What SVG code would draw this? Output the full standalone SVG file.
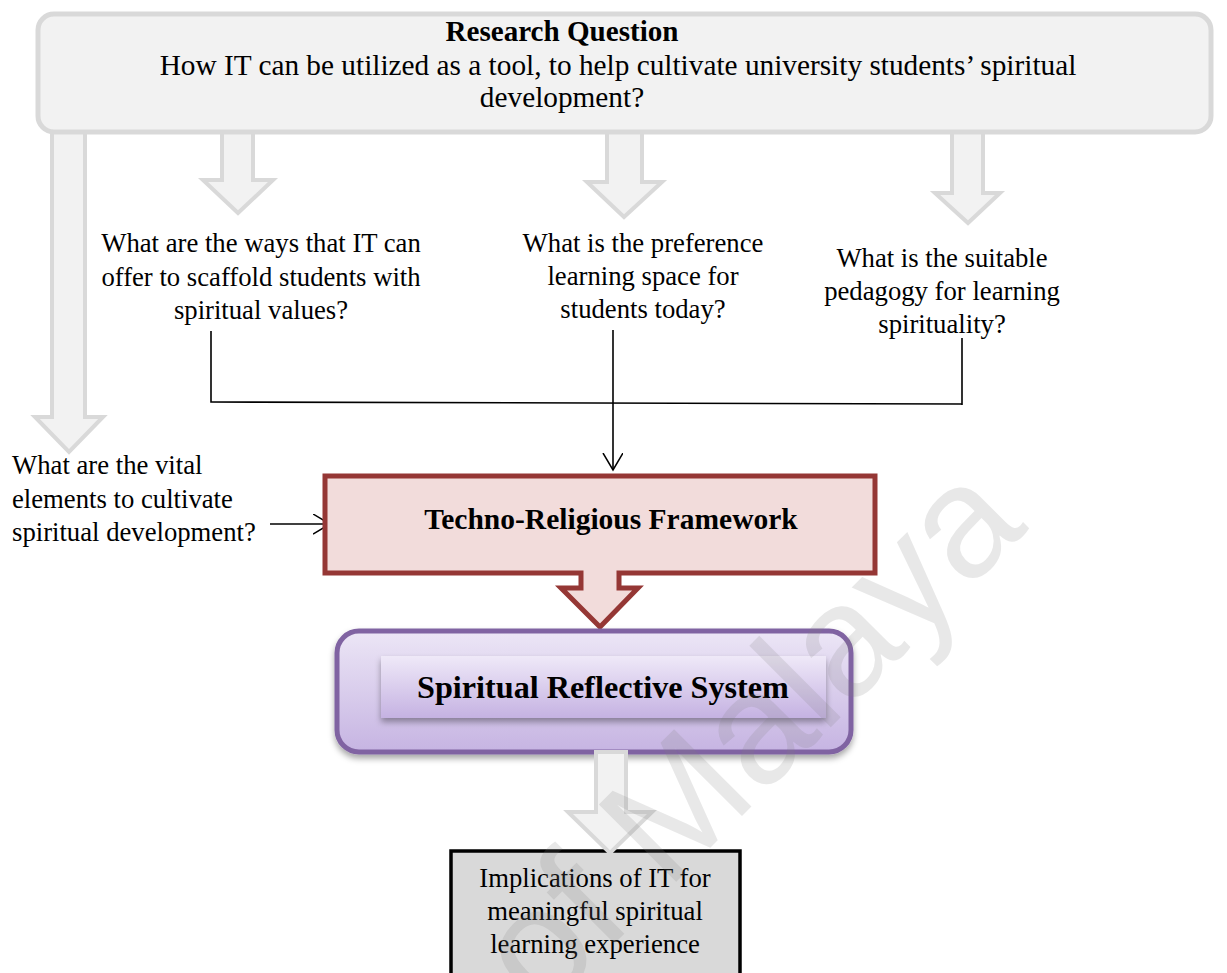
<svg xmlns="http://www.w3.org/2000/svg" width="1227" height="973" viewBox="0 0 1227 973">
<defs>
<style>
.t{font-family:"Liberation Serif","Times New Roman",serif;font-size:26.7px;fill:#000;text-anchor:middle}
.b{font-weight:bold}
.garrow{fill:#f2f2f2;stroke:#d9d9d9;stroke-width:4;stroke-linejoin:miter}
.conn{fill:none;stroke:#000;stroke-width:1.6}
</style>
<linearGradient id="gOuter" x1="0" y1="0" x2="0" y2="1">
<stop offset="0" stop-color="#ece6f6"/>
<stop offset="1" stop-color="#c6b4e2"/>
</linearGradient>
<linearGradient id="gInner" x1="0" y1="0" x2="0" y2="1">
<stop offset="0" stop-color="#efe9f8"/>
<stop offset="1" stop-color="#c5b2e2"/>
</linearGradient>
<filter id="sh" x="-10%" y="-20%" width="120%" height="150%">
<feDropShadow dx="0" dy="4" stdDeviation="3" flood-color="#000" flood-opacity="0.35"/>
</filter>
<marker id="open" markerUnits="userSpaceOnUse" markerWidth="20" markerHeight="22" refX="17" refY="10" orient="auto" viewBox="0 0 20 22">
<path d="M0,0 L17,10 L0,20" fill="none" stroke="#000" stroke-width="1.5"/>
</marker>
</defs>
<rect width="1227" height="973" fill="#fff"/>

<g id="research-question">
<path class="garrow" d="M52,130 L52,417 L35,417 L69,452 L103,417 L85,417 L85,130 Z"/>
<path class="garrow" d="M222,130 L222,180 L203,180 L238,213 L273,180 L253,180 L253,130 Z"/>
<path class="garrow" d="M607,130 L607,182 L587,182 L624,217 L662,182 L642,182 L642,130 Z"/>
<path class="garrow" d="M952,130 L952,193 L935,193 L968,223 L1000,193 L983,193 L983,130 Z"/>
<rect x="38" y="14" width="1173" height="118" rx="16" fill="#f2f2f2" stroke="#d9d9d9" stroke-width="5"/>
<text class="t b" x="562" y="41" style="font-size:29.1px">Research Question</text>
<text class="t" x="618" y="75" style="font-size:29.3px">How IT can be utilized as a tool, to help cultivate university students’ spiritual</text>
<text class="t" x="562" y="107" style="font-size:29.3px">development?</text>
</g>

<g id="q-ways">
<text class="t" x="261" y="252">What are the ways that IT can</text>
<text class="t" x="261" y="286">offer to scaffold students with</text>
<text class="t" x="261" y="319">spiritual values?</text>
</g>

<g id="q-space">
<text class="t" x="643" y="252">What is the preference</text>
<text class="t" x="643" y="285">learning space for</text>
<text class="t" x="643" y="318">students today?</text>
</g>

<g id="q-pedagogy">
<text class="t" x="942" y="267">What is the suitable</text>
<text class="t" x="942" y="300">pedagogy for learning</text>
<text class="t" x="942" y="333">spirituality?</text>
</g>

<g id="q-elements">
<text class="t" x="12" y="474" style="text-anchor:start">What are the vital</text>
<text class="t" x="12" y="508" style="text-anchor:start">elements to cultivate</text>
<text class="t" x="12" y="541" style="text-anchor:start">spiritual development?</text>
</g>

<g id="connectors">
<path class="conn" d="M211,331 L211,402 L962,404 M962,338 L962,405"/>
<path class="conn" d="M613,330 L613,470" marker-end="url(#open)"/>
<path class="conn" d="M270,524 L330,524" marker-end="url(#open)"/>
</g>

<g id="techno-religious-framework">
<path d="M325,476 H875 V573 H619 V588 H638 L600,627 L561,588 H581 V573 H325 Z" fill="#f2dcdb" stroke="#953735" stroke-width="5"/>
<text class="t b" x="611" y="529" style="font-size:29.5px">Techno-Religious Framework</text>
</g>

<g id="spiritual-reflective-system">
<rect x="337" y="631" width="514" height="121" rx="22" fill="url(#gOuter)" stroke="#8064a2" stroke-width="5" filter="url(#sh)"/>
<rect x="381" y="656" width="445" height="62" fill="url(#gInner)" filter="url(#sh)"/>
<text class="t b" x="603" y="698" style="font-size:32.2px">Spiritual Reflective System</text>
</g>

<g id="implications">
<rect x="451" y="851" width="289" height="140" fill="#d9d9d9" stroke="#000" stroke-width="3.5"/>
<path class="garrow" d="M596,752 L596,812 L568,812 L610,853 L652,812 L626,812 L626,752 Z"/>
<text class="t" x="595" y="887">Implications of IT for</text>
<text class="t" x="595" y="920">meaningful spiritual</text>
<text class="t" x="595" y="953">learning experience</text>
</g>

<text x="542" y="1016" transform="rotate(-45 542 1016)" font-family="'Liberation Sans',Arial,sans-serif" font-size="159" fill="#7f7f7f" fill-opacity="0.18">of Malaya</text>
</svg>
